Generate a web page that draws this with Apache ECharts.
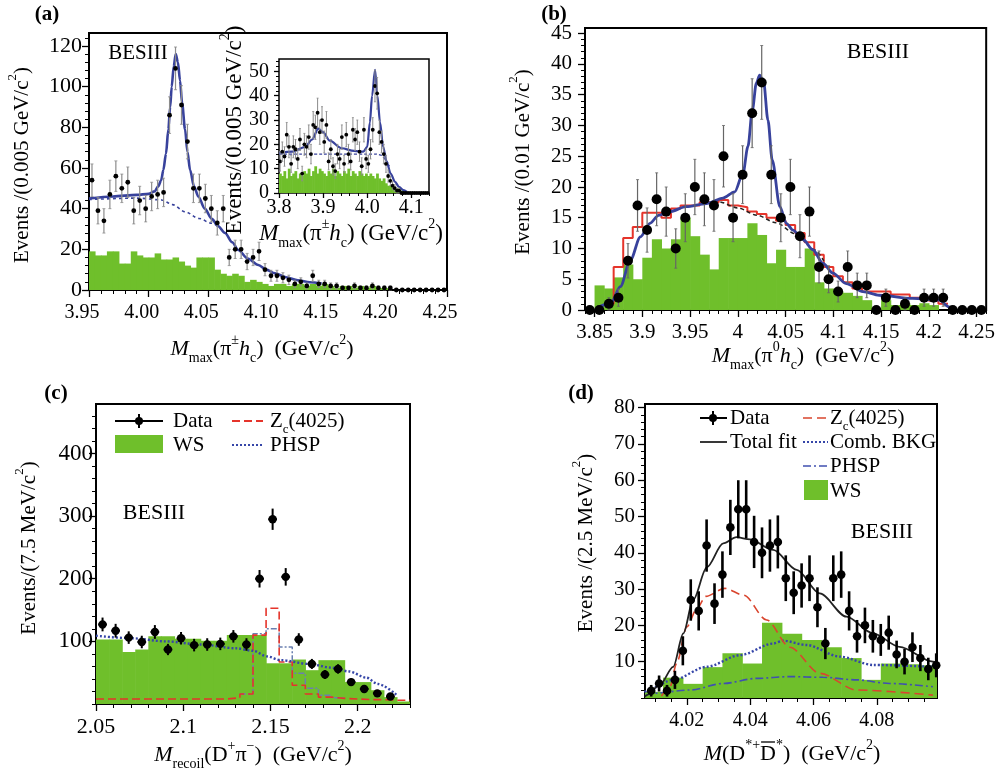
<!DOCTYPE html>
<html><head><meta charset="utf-8">
<script src="https://cdn.jsdelivr.net/npm/echarts@6/dist/echarts.min.js"></script>
<style>html,body{margin:0;padding:0;background:#fff}#c{width:998px;height:771px}</style>
</head><body><div id="c"></div>
<script>
// ================= DATA =================
// ---- Panel (a) ----
const aBinStart = 3.95, aBinW = 0.005;
const aData = [54,39,34,47,56,50,53,39,44,40, 46,47,48,86,109,91,73,50,50,45, 40,33,40,16,20,20,14,16,19,10, 7,7,6,5,3,4,2,7,3,3, 2,2,1,1,2,1,1,2,1,1, 1,0,0,0,0,0,0,0,0,0];
const aErr  = [8,6.5,6,7,7.5,7,7.5,6.5,7,6.5, 7,7,7,9,10.5,9.5,8.5,7,7,7, 6.5,6,6.5,4,4.5,4.5,4,4,4.5,3, 2.7,2.7,2.5,2.3,1.8,2,1.5,2.7,1.8,1.8, 1.5,1.5,1,1,1.5,1,1,1.5,1,1, 1,0,0,0,0,0,0,0,0,0];
const aWS   = [19,17,17,19,19,13,13,19,17,16, 16,18,15,15,16,14,12,11,16,16, 16,10,8,7,8,7,4,5,4,3, 2,3,3,2,3,3,2,3,2,3, 2,1,2,2,1,2,1,2,1,1, 0,0,0,0,0,0,0,0,0,0];
const aFit  = [[3.95,45],[3.97,46],[3.99,46.8],[4.0,47.3],[4.005,48.5],[4.008,51],[4.0105,54],[4.0123,59],[4.0145,67],[4.0165,79],[4.018,90],[4.0193,100],[4.021,110],[4.0227,116],[4.0245,112],[4.0263,103],[4.028,92],[4.0305,79],[4.0325,68],[4.0347,59],[4.038,51],[4.0416,46],[4.047,40],[4.0529,35],[4.058,31.5],[4.064,28],[4.07,23.5],[4.0751,19.7],[4.083,15.5],[4.0919,12.3],[4.0985,10],[4.1059,8.2],[4.115,6.3],[4.125,4.8],[4.135,3.8],[4.145,3.2]];
const aBkg  = [[3.95,44.5],[3.99,45.2],[4.011,44.3],[4.02,42],[4.0305,38.5],[4.042,35.2],[4.0529,32.8],[4.058,31.4]];
const aXTicks = [3.95,4.00,4.05,4.10,4.15,4.20,4.25];
const aYTicks = [0,20,40,60,80,100,120];

// ---- Inset of (a) ----
const iBinStart = 3.80, iBinW = 0.005;
const iData = [13,17,15,24,19,12,19,18,14,22, 8,20,19,23,16,28,27,33,25,30, 21,28,13,18,11,9,16,14,23,12, 24,16,13,26,22,25,17,11,26,14, 12,18,26,44,41,25,21,16,12,7, 5,3,2,1,1,0,0,0,0,0, 0,0,0,0,0,0,0,0];
const iErr  = [4,4,4,5,4.5,3.5,4.5,4,4,4.5, 3,4.5,4.5,5,4,5.5,5,6,5,5.5, 4.5,5.5,3.5,4,3.5,3,4,4,5,3.5, 5,4,3.5,5,4.5,5,4,3.5,5,4, 3.5,4,5,6.5,6.5,5,4.5,4,3.5,2.5, 2,1.7,1.4,1,1,0,0,0,0,0, 0,0,0,0,0,0,0,0];
const iWS   = [8,7,9,6,10,7,8,9,6,8, 7,9,8,10,7,9,11,8,10,9, 8,7,9,8,10,7,9,8,7,9, 8,10,7,9,8,7,9,8,7,8, 7,8,7,6,8,6,5,6,4,3, 3,3,2,2,1,1,1,0,0,0, 0,0,0,0,0,0,0,0];
const iFit  = [[3.8,16.5],[3.83,17],[3.86,19],[3.875,22],[3.889,26.5],[3.9,25],[3.915,21.5],[3.942,18.4],[3.97,17.3],[3.991,17],[4.0,19],[4.006,29],[4.011,40],[4.0177,50.6],[4.023,40],[4.029,29],[4.036,19],[4.044,12.9],[4.053,8],[4.063,4.6],[4.072,2.5],[4.082,1.2],[4.09,0.5]];
const iBkg  = [[3.8,16],[3.85,16],[3.9,16],[3.95,16],[4.0,16],[4.02,16],[4.033,15.5],[4.042,13.5],[4.05,11]];
const iXTicks = [3.8,3.9,4.0,4.1];
const iYTicks = [0,10,20,30,40,50];

// ---- Panel (b) ----
const bDataStart = 3.845, bBinW = 0.01;
const bData = [0,0,1,2,8,17,13,18,16,10, 15,20,18,17,25,15,22,32,37,22, 15,20,12,16,7,5,3,7,4,4, 0,2,0,1,0,2,2,2,0,0, 0,0];
const bErr  = [0,0,1,1.4,2.8,4.2,3.6,4.3,4,3.2, 3.9,4.5,4.3,4.2,5,3.9,4.7,5.6,6,4.7, 3.9,4.5,3.5,4,2.6,2.2,1.7,2.6,2,2, 0,1.4,0,1,0,1.4,1.4,1.4,0,0, 0,0];
const bWSStart = 3.85;
const bWS   = [4,3.5,5.3,7.4,5,8.5,11.5,10,11.5,15, 12,9,6.6,11.7,11.7,11.7,14.1,12.2,7.6,9.8, 7,7,10,4.5,3.5,3,2.8,2.3,1.6,0.3, 1.6,0.8,1.1,0.8,1.1,0.8];
const bRedStart = 3.86;
const bRed  = [1,7,11.7,13.5,15.8,15.8,15,16.5,17,17, 17.5,17.5,17.9,17,16.7,16,15.6,15,14.5,13.8, 12.5,11,9,7,5.5,4.5,3.5,3,3,3, 2.5,2.5,2,2,1.5,1];
const bBkg  = [[3.96,17.2],[3.98,17.6],[4.0,16.6],[4.02,15.4],[4.04,14.2],[4.06,12.4],[4.08,9.8],[4.09,8]];
const bFit  = [[3.852,0.3],[3.867,1.1],[3.877,3.8],[3.8875,8.1],[3.898,11.9],[3.908,14.1],[3.917,15.4],[3.929,16],[3.946,16.8],[3.967,17.3],[3.9845,18.2],[3.9967,19.2],[4.0054,22.2],[4.0106,26.6],[4.0152,32.5],[4.0194,36.9],[4.0228,38.2],[4.027,37.1],[4.0315,30.9],[4.036,24.4],[4.044,16.8],[4.0507,14.1],[4.0577,13],[4.068,11.5],[4.0786,9.8],[4.089,7.6],[4.0995,6],[4.1135,4.3],[4.131,3],[4.148,2.4],[4.183,1.9],[4.211,1.6],[4.221,0.5],[4.2266,0]];
const bXTicks = [3.85,3.9,3.95,4,4.05,4.1,4.15,4.2,4.25];
const bYTicks = [0,5,10,15,20,25,30,35,40,45];

// ---- Panel (c) ----
const cBinStart = 2.05, cBinW = 0.0075;
const cData = [127,117,106,99,115,87,105,94,95,96, 108,95,200,295,203,103,64,47,56,35, 24,17,12];
const cErr  = [11,11,10,10,11,9,10,10,10,10, 10,10,14,17,14,10,8,7,7.5,6, 5,4,3.5];
const cWS   = [103,103,83,87,108,108,104,104,101,101, 110,110,110,65,65,71,54,70,70,35, 35,22,11,4];
const cZc   = [8,8,8,8,8,8,8,8,8,8, 10,16,110,153,67,30,16,11,9,8, 7,7,6,6];
const cSumFrom = 11;
const cSum  = [16,112,120,91,49,25,14,10];
const cPhsp = [[2.05,109],[2.07,105],[2.09,100],[2.11,95],[2.13,89],[2.14,85],[2.148,76],[2.156,70],[2.172,64],[2.185,58],[2.195,52],[2.205,42],[2.2116,32],[2.2226,14]];
const cXTicks = [2.05,2.1,2.15,2.2];
const cYTicks = [100,200,300,400];

// ---- Panel (d) ----
const dDataStart = 4.00875, dBinW = 0.0025;
const dData = [2,4,2,5,13,27,24,42,26,34, 47,52,52,43,40,42,43,33,29,31, 33,25,15,33,34,24,17,20,17,16, 18,12,10,14,11,8,9];
const dErr  = [1.6,2.2,1.6,2.5,4,5.7,5.4,7.2,5.6,6.4, 7.6,8,8,7.2,7,7.2,7.3,6.3,5.9,6.1, 6.3,5.5,4.3,6.3,6.4,5.4,4.5,4.9,4.5,4.4, 4.7,3.8,3.5,4.1,3.6,3.1,3.3];
const dWSStart = 4.00625, dWSW = 0.00625;
const dWS   = [1.7,5.6,3.9,8.5,12.3,9.5,20.7,17.7,16,14,11,5,9.5,9.3,9];
const dFit  = [[4.0068,0.3],[4.0073,0.8],[4.0115,3.6],[4.0157,8.6],[4.0189,17.8],[4.022,27],[4.0263,36],[4.0315,42.6],[4.0357,44.3],[4.0399,43.7],[4.0473,40.8],[4.0547,35.3],[4.062,28.8],[4.0704,22.4],[4.0788,17.8],[4.0872,14.1],[4.0977,10],[4.099,9.7]];
const dZc   = [[4.012,0.5],[4.0147,3.1],[4.0168,9.6],[4.02,19.6],[4.0231,24.5],[4.026,28],[4.032,30.2],[4.038,28.3],[4.0452,21.5],[4.0525,14],[4.062,6.8],[4.0736,2.2],[4.0977,0.8]];
const dComb = [[4.0068,1.5],[4.0073,2.2],[4.0157,5],[4.0263,8.6],[4.0368,11.8],[4.0473,15],[4.0504,15.8],[4.0578,14.6],[4.0683,11.4],[4.0788,9.1],[4.0977,8.6]];
const dPhsp = [[4.0068,0.6],[4.0094,1.3],[4.021,2.2],[4.0315,4],[4.042,5.4],[4.0525,5.9],[4.063,5.7],[4.0736,5],[4.0841,4],[4.0977,3.1]];
const dXTicks = [4.02,4.04,4.06,4.08];
const dYTicks = [10,20,30,40,50,60,70,80];

// ================= STYLE / HELPERS =================
const F = "'Liberation Serif','Times New Roman',serif";
const GREEN = '#6fbf2b', BLUE = '#38429c', RED = '#e5342b';

function richFor(fs) {
  const s = Math.round(fs * 0.62);
  return {
    it:  {fontFamily: F, fontSize: fs, fontStyle: 'italic', lineHeight: fs + 10},
    sub: {fontFamily: F, fontSize: s, verticalAlign: 'bottom', lineHeight: s + 2},
    sup: {fontFamily: F, fontSize: s, verticalAlign: 'top', lineHeight: s + 2}
  };
}
function txt(x, y, text, fs, opt) {
  opt = opt || {};
  return {type: 'text', x: x, y: y, rotation: opt.rot || 0, z: 100,
    style: {text: text, fontFamily: F, fontSize: fs, fontWeight: opt.bold ? 'bold' : 'normal',
      fill: '#000', align: opt.align || 'center', verticalAlign: 'middle', lineHeight: fs + 10, rich: richFor(fs)}};
}
const mctx = document.createElement('canvas').getContext('2d');
function tw(text, fs, italic) { mctx.font = (italic ? 'italic ' : '') + fs + 'px ' + F; return mctx.measureText(text).width; }
function minorVals(min, max, step) {
  const out = [];
  const i0 = Math.ceil(min / step - 1e-6), i1 = Math.floor(max / step + 1e-6);
  for (let i = i0; i <= i1; i++) out.push(+(i * step).toFixed(6));
  return out;
}
function trim(v) { return String(+v.toFixed(3)); }

const panels = [
  {grid: {left: 89, top: 33, width: 358, height: 257}, x: [3.95, 4.25], y: [0, 126.4], xt: aXTicks, yt: aYTicks, xm: 0.01, ym: 4,
   xf: v => v.toFixed(2), yf: v => String(v), xfs: 20, yfs: 22, xMar: 13, yMar: 7, bw: 2, xPad: [0, 14, 0, 0]},
  {grid: {left: 279, top: 59, width: 150, height: 134}, x: [3.8, 4.14], y: [0, 55.1], xt: iXTicks, yt: iYTicks, xm: 0.02, ym: 2,
   xf: v => v.toFixed(1), yf: v => String(v), xfs: 20, yfs: 20, xMar: 5, yMar: 10, bw: 1.5, tl: 5},
  {grid: {left: 585, top: 28, width: 402, height: 282}, x: [3.84, 4.26], y: [0, 45.85], xt: bXTicks, yt: bYTicks, xm: 0.01, ym: 1,
   xf: trim, yf: v => String(v), xfs: 21, yfs: 21, xMar: 12, yMar: 13, bw: 2},
  {grid: {left: 96, top: 404, width: 314, height: 300}, x: [2.05, 2.23], y: [0, 479], xt: cXTicks, yt: cYTicks, xm: 0.01, ym: 20,
   xf: trim, yf: v => String(v), xfs: 22, yfs: 23, xMar: 12, yMar: 3, bw: 2},
  {grid: {left: 645, top: 404, width: 292, height: 294}, x: [4.0068, 4.099], y: [0, 81], xt: dXTicks, yt: dYTicks, xm: 0.005, ym: 2,
   xf: v => v.toFixed(2), yf: v => String(v), xfs: 20, yfs: 21, xMar: 13, yMar: 10, bw: 2}
];

const grids = [], xAxes = [], yAxes = [];
panels.forEach((p, g) => {
  grids.push(Object.assign({show: true, borderColor: '#000', borderWidth: p.bw, backgroundColor: '#fff', containLabel: false}, p.grid));
  const tl = p.tl || 7;
  const lab = (cv, f, m, fs, pad) => ({customValues: cv, formatter: f, fontFamily: F, fontSize: fs, color: '#000', margin: m, padding: pad || 0});
  xAxes.push({type: 'value', gridIndex: g, min: p.x[0], max: p.x[1], position: 'bottom',
    axisLine: {show: false}, splitLine: {show: false},
    axisTick: {show: true, inside: false, length: tl, customValues: p.xt, lineStyle: {color: '#000', width: 1.3}},
    axisLabel: lab(p.xt, p.xf, p.xMar, p.xfs, p.xPad)});
  xAxes.push({type: 'value', gridIndex: g, min: p.x[0], max: p.x[1], position: 'bottom',
    axisLine: {show: false}, splitLine: {show: false}, axisLabel: {show: false},
    axisTick: {show: true, inside: false, length: Math.round(tl * 0.55), customValues: minorVals(p.x[0], p.x[1], p.xm), lineStyle: {color: '#000', width: 1}}});
  yAxes.push({type: 'value', gridIndex: g, min: p.y[0], max: p.y[1], position: 'left',
    axisLine: {show: false}, splitLine: {show: false},
    axisTick: {show: true, inside: false, length: tl, customValues: p.yt, lineStyle: {color: '#000', width: 1.3}},
    axisLabel: lab(p.yt, p.yf, p.yMar, p.yfs)});
  yAxes.push({type: 'value', gridIndex: g, min: p.y[0], max: p.y[1], position: 'left',
    axisLine: {show: false}, splitLine: {show: false}, axisLabel: {show: false},
    axisTick: {show: true, inside: false, length: Math.round(tl * 0.55), customValues: minorVals(p.y[0], p.y[1], p.ym), lineStyle: {color: '#000', width: 1}}});
});

function histSeries(g, start, w, vals, color, z) {
  return {type: 'custom', xAxisIndex: 2 * g, yAxisIndex: 2 * g, clip: true, z: z || 2, silent: true,
    data: vals.map((v, i) => [start + i * w, start + (i + 1) * w, v]),
    encode: {x: [0, 1], y: 2},
    renderItem: function (params, api) {
      const a = api.coord([api.value(0), api.value(2)]);
      const b = api.coord([api.value(1), 0]);
      return {type: 'rect', shape: {x: a[0], y: a[1], width: b[0] - a[0] + 0.6, height: b[1] - a[1]}, style: {fill: color}};
    }};
}
function stepSeries(g, start, w, vals, color, width, type, z) {
  const d = vals.map((v, i) => [start + i * w, v]);
  d.push([start + vals.length * w, vals[vals.length - 1]]);
  return {type: 'line', xAxisIndex: 2 * g, yAxisIndex: 2 * g, data: d, step: 'end', showSymbol: false, symbol: 'none',
    lineStyle: {color: color, width: width, type: type || 'solid'}, z: z || 3, silent: true, clip: true};
}
function curveSeries(g, pts, color, width, type, z) {
  return {type: 'line', xAxisIndex: 2 * g, yAxisIndex: 2 * g, data: pts, smooth: 0.3, smoothMonotone: 'x', showSymbol: false, symbol: 'none',
    lineStyle: {color: color, width: width, type: type || 'solid'}, z: z || 4, silent: true, clip: true};
}
function dataSeries(g, start, w, vals, errs, o) {
  return {type: 'custom', xAxisIndex: 2 * g, yAxisIndex: 2 * g, clip: false, z: 10, silent: true,
    data: vals.map((v, i) => [start + i * w, v, errs[i]]),
    encode: {x: 0, y: 1},
    renderItem: function (params, api) {
      const x = api.value(0), y = api.value(1), e = api.value(2);
      const p = api.coord([x, y]);
      const ch = [];
      if (e > 0) {
        const hi = api.coord([x, y + e]), lo = api.coord([x, y - e]);
        ch.push({type: 'line', shape: {x1: p[0], y1: hi[1], x2: p[0], y2: lo[1]}, style: {stroke: o.ecol, lineWidth: o.elw}});
        if (o.cap) {
          ch.push({type: 'line', shape: {x1: p[0] - o.cap, y1: hi[1], x2: p[0] + o.cap, y2: hi[1]}, style: {stroke: o.ecol, lineWidth: 0.8}});
          ch.push({type: 'line', shape: {x1: p[0] - o.cap, y1: lo[1], x2: p[0] + o.cap, y2: lo[1]}, style: {stroke: o.ecol, lineWidth: 0.8}});
        }
      }
      if (o.xe) {
        const l = api.coord([x - o.xe, y]), r = api.coord([x + o.xe, y]);
        ch.push({type: 'line', shape: {x1: l[0], y1: p[1], x2: r[0], y2: p[1]}, style: {stroke: '#000', lineWidth: o.elw}});
      }
      ch.push({type: 'circle', shape: {cx: p[0], cy: p[1], r: o.r}, style: {fill: '#000'}});
      return {type: 'group', children: ch};
    }};
}

const series = [
  // (a)
  histSeries(0, aBinStart, aBinW, aWS, GREEN),
  curveSeries(0, aBkg, BLUE, 1.6, [3, 3]),
  curveSeries(0, aFit, BLUE, 2.6),
  dataSeries(0, aBinStart + aBinW / 2, aBinW, aData, aErr, {r: 2.4, ecol: '#8c8c8c', elw: 1.2, cap: 1.5}),
  // inset
  histSeries(1, iBinStart, iBinW, iWS, GREEN),
  curveSeries(1, iBkg, BLUE, 1.3, [3, 2]),
  curveSeries(1, iFit, BLUE, 2.2),
  dataSeries(1, iBinStart + iBinW / 2, iBinW, iData, iErr, {r: 1.9, ecol: '#8c8c8c', elw: 1, cap: 1}),
  // (b)
  histSeries(2, bWSStart, bBinW, bWS, GREEN),
  stepSeries(2, bRedStart, bBinW, bRed, RED, 2),
  curveSeries(2, bBkg, '#222', 1.5, [4, 3], 5),
  curveSeries(2, bFit, BLUE, 2.8, 'solid', 6),
  dataSeries(2, bDataStart, bBinW, bData, bErr, {r: 5, ecol: '#666', elw: 1.2, cap: 1.5}),
  // (c)
  histSeries(3, cBinStart, cBinW, cWS, GREEN),
  curveSeries(3, cPhsp, '#3646a8', 2.4, [2, 2]),
  stepSeries(3, cBinStart + cSumFrom * cBinW, cBinW, cSum, '#6a7fb0', 1.5, [6, 2, 2, 2]),
  stepSeries(3, cBinStart, cBinW, cZc, RED, 1.6, [8, 4]),
  dataSeries(3, cBinStart + cBinW / 2, cBinW, cData, cErr, {r: 4.2, ecol: '#000', elw: 2, xe: 0.0025}),
  // (d)
  histSeries(4, dWSStart, dWSW, dWS, GREEN),
  curveSeries(4, dPhsp, '#4050b0', 1.6, [8, 3, 2, 3]),
  curveSeries(4, dComb, '#3646a8', 2.4, [2, 2]),
  curveSeries(4, dZc, '#d9452e', 1.6, [9, 5]),
  curveSeries(4, dFit, '#222', 1.8),
  dataSeries(4, dDataStart, dBinW, dData, dErr, {r: 4.3, ecol: '#000', elw: 2.6})
];

// ---- (d) x title with an overlined D (measured so the bar sits on the D) ----
const dTitleFs = 22, dSub = Math.round(dTitleFs * 0.62);
const dParts = [['M', dTitleFs, true], ['(D', dTitleFs], ['*+', dSub], ['D', dTitleFs], ['*', dSub], [')  (GeV/c', dTitleFs], ['2', dSub], [')', dTitleFs]];
const dTotalW = dParts.reduce((s, p) => s + tw(p[0], p[1], p[2]), 0);
const dX0 = 792 - dTotalW / 2;
const dBarX = dX0 + tw('M', dTitleFs, true) + tw('(D', dTitleFs) + tw('*+', dSub);
const dBarW = tw('D', dTitleFs);

// ================= TEXT / LEGENDS =================
const graphics = [
  txt(47, 15, '(a)', 21, {bold: true}),
  txt(554, 15, '(b)', 21, {bold: true}),
  txt(56, 394, '(c)', 21, {bold: true}),
  txt(581, 394, '(d)', 21, {bold: true}),
  txt(138, 53, 'BESIII', 21),
  txt(878, 52, 'BESIII', 22),
  txt(154, 513, 'BESIII', 22),
  txt(882, 532, 'BESIII', 22),
  // axis titles
  txt(22, 165, 'Events /(0.005 GeV/c{sup|2})', 21, {rot: Math.PI / 2}),
  txt(262, 349, '{it|M}{sub|max}(π{sup|±}{it|h}{sub|c})  (GeV/c{sup|2})', 22),
  txt(235, 130, 'Events/(0.005 GeV/c{sup|2})', 23, {rot: Math.PI / 2}),
  txt(351, 234, '{it|M}{sub|max}(π{sup|±}{it|h}{sub|c}) (GeV/c{sup|2})', 23),
  txt(523, 162, 'Events /(0.01 GeV/c{sup|2})', 21, {rot: Math.PI / 2}),
  txt(803, 356, '{it|M}{sub|max}(π{sup|0}{it|h}{sub|c})  (GeV/c{sup|2})', 22),
  txt(29, 548, 'Events/(7.5 MeV/c{sup|2})', 21, {rot: Math.PI / 2}),
  txt(253, 755, '{it|M}{sub|recoil}(D{sup|+}π{sup|−})  (GeV/c{sup|2})', 22),
  txt(586, 543, 'Events /(2.5 MeV/c{sup|2})', 21, {rot: Math.PI / 2}),
  txt(dX0, 754, '{it|M}(D{sup|*+}D{sup|*})  (GeV/c{sup|2})', dTitleFs, {align: 'left'}),
  {type: 'line', z: 100, shape: {x1: dBarX + 1, y1: 742, x2: dBarX + dBarW - 1, y2: 742}, style: {stroke: '#000', lineWidth: 1.3}},
  // legend (c)
  {type: 'line', z: 100, shape: {x1: 115, y1: 421, x2: 163, y2: 421}, style: {stroke: '#000', lineWidth: 2}},
  {type: 'line', z: 100, shape: {x1: 139, y1: 414, x2: 139, y2: 428}, style: {stroke: '#000', lineWidth: 2}},
  {type: 'circle', z: 100, shape: {cx: 139, cy: 421, r: 4}, style: {fill: '#000'}},
  txt(173, 421, 'Data', 21, {align: 'left'}),
  {type: 'rect', z: 100, shape: {x: 115, y: 435, width: 48, height: 18}, style: {fill: GREEN}},
  txt(173, 445, 'WS', 21, {align: 'left'}),
  {type: 'line', z: 100, shape: {x1: 232, y1: 421, x2: 263, y2: 421}, style: {stroke: RED, lineWidth: 1.8, lineDash: [8, 4]}},
  txt(270, 421, 'Z{sub|c}(4025)', 21, {align: 'left'}),
  {type: 'line', z: 100, shape: {x1: 232, y1: 445, x2: 263, y2: 445}, style: {stroke: '#3646a8', lineWidth: 2, lineDash: [2, 2]}},
  txt(270, 445, 'PHSP', 21, {align: 'left'}),
  // legend (d)
  {type: 'line', z: 100, shape: {x1: 700, y1: 418, x2: 727, y2: 418}, style: {stroke: '#000', lineWidth: 2}},
  {type: 'line', z: 100, shape: {x1: 713, y1: 411, x2: 713, y2: 425}, style: {stroke: '#000', lineWidth: 2}},
  {type: 'circle', z: 100, shape: {cx: 713, cy: 418, r: 4}, style: {fill: '#000'}},
  txt(730, 418, 'Data', 21, {align: 'left'}),
  {type: 'line', z: 100, shape: {x1: 700, y1: 442, x2: 727, y2: 442}, style: {stroke: '#222', lineWidth: 1.8}},
  txt(730, 442, 'Total fit', 21, {align: 'left'}),
  {type: 'line', z: 100, shape: {x1: 803, y1: 418, x2: 828, y2: 418}, style: {stroke: '#d9452e', lineWidth: 1.6, lineDash: [9, 5]}},
  txt(830, 418, 'Z{sub|c}(4025)', 21, {align: 'left'}),
  {type: 'line', z: 100, shape: {x1: 803, y1: 442, x2: 828, y2: 442}, style: {stroke: '#3646a8', lineWidth: 2.2, lineDash: [2, 2]}},
  txt(830, 442, 'Comb. BKG', 21, {align: 'left'}),
  {type: 'line', z: 100, shape: {x1: 803, y1: 466, x2: 828, y2: 466}, style: {stroke: '#4050b0', lineWidth: 1.6, lineDash: [8, 3, 2, 3]}},
  txt(830, 466, 'PHSP', 21, {align: 'left'}),
  {type: 'rect', z: 100, shape: {x: 804, y: 480, width: 24, height: 20}, style: {fill: GREEN}},
  txt(830, 491, 'WS', 21, {align: 'left'})
];

const chart = echarts.init(document.getElementById('c'), null, {renderer: 'canvas'});
chart.setOption({
  backgroundColor: '#fff',
  animation: false,
  grid: grids,
  xAxis: xAxes,
  yAxis: yAxes,
  series: series,
  graphic: graphics
});
</script></body></html>
